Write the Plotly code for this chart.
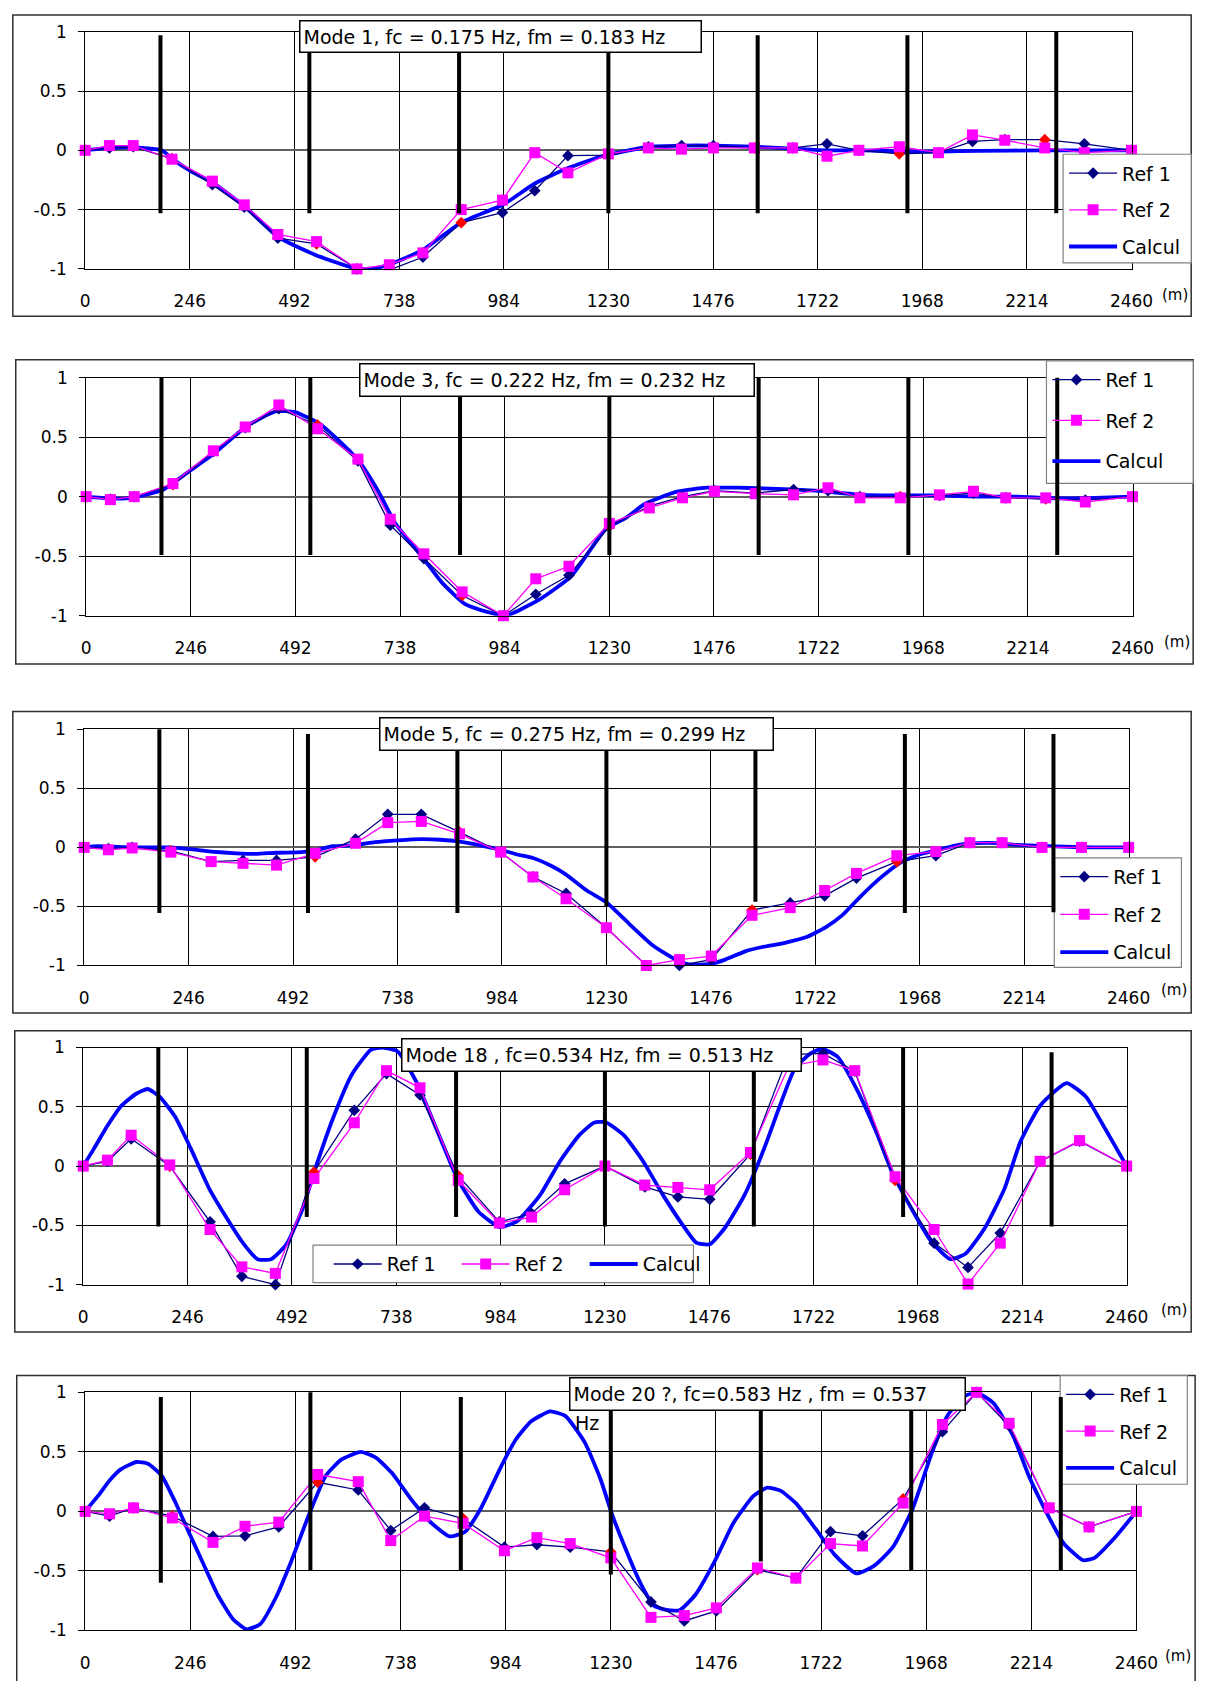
import plotly.graph_objects as go

W, H = 1222, 1681
FONT = "DejaVu Sans"

# ---------------- data ----------------
stations = [0, 57, 113, 204, 299, 374, 453, 544, 639, 715, 794, 884, 981, 1057, 1135,
            1230, 1324, 1402, 1477, 1573, 1663, 1744, 1819, 1914, 2006, 2086, 2162, 2256, 2349, 2460]
highlight_stations = [204, 544, 884, 1230, 1573, 1914, 2256]
pylon_x = [177, 527, 879, 1230, 1581, 1933, 2283]

x_tick_vals = [0, 246, 492, 738, 984, 1230, 1476, 1722, 1968, 2214, 2460]
x_tick_text = ["0", "246", "492", "738", "984", "1230", "1476", "1722", "1968", "2214", "2460"]
y_tick_vals = [-1, -0.5, 0, 0.5, 1]
y_tick_text = ["-1", "-0.5", "0", "0.5", "1"]
series_names = ["Ref 1", "Ref 2", "Calcul"]

titles = ["Mode 1, fc = 0.175 Hz, fm = 0.183 Hz",
          "Mode 3, fc = 0.222 Hz, fm = 0.232 Hz",
          "Mode 5, fc = 0.275 Hz, fm = 0.299 Hz",
          "Mode 18 , fc=0.534 Hz, fm = 0.513 Hz",
          "Mode 20 ?, fc=0.583 Hz , fm = 0.537"]
title5_overflow = "Hz"

# Mode 1
m1_ref1 = [0, 0.02, 0.03, -0.07, -0.29, -0.48, -0.74, -0.79, -1.0, -1.01, -0.9, -0.61, -0.525, -0.34, -0.045,
           -0.04, 0.03, 0.04, 0.04, 0.02, 0.02, 0.055, 0.0, -0.03, -0.02, 0.075, 0.09, 0.09, 0.055, 0.0]
m1_ref2 = [0, 0.04, 0.04, -0.075, -0.26, -0.46, -0.71, -0.77, -1.0, -0.965, -0.865, -0.50, -0.42, -0.02, -0.19,
           -0.03, 0.02, 0.01, 0.02, 0.02, 0.02, -0.05, 0.0, 0.03, -0.02, 0.13, 0.085, 0.02, -0.02, 0.0]
m1_calc_x = [0, 57, 113, 180, 204, 250, 299, 374, 453, 540, 639, 675, 721, 794, 884, 984, 1057, 1135, 1215,
             1324, 1402, 1477, 1573, 1663, 1744, 1830, 1920, 2010, 2100, 2250, 2460]
m1_calc_y = [0, 0.02, 0.025, 0.0, -0.07, -0.18, -0.27, -0.47, -0.73, -0.88, -1.0, -1.0, -0.955, -0.84, -0.61,
             -0.455, -0.28, -0.15, -0.05, 0.03, 0.04, 0.04, 0.03, 0.015, 0.0, 0.0, -0.01, -0.01, -0.005, 0.0, 0.0]

# Mode 3
m3_ref1 = [0, -0.02, 0.0, 0.1, 0.38, 0.58, 0.74, 0.6, 0.3, -0.24, -0.52, -0.83, -1.0, -0.82, -0.66,
           -0.25, -0.08, 0.0, 0.05, 0.03, 0.06, 0.05, 0.0, 0.0, 0.01, 0.03, -0.01, -0.02, -0.03, 0.0]
m3_ref2 = [0, -0.025, 0.0, 0.11, 0.385, 0.585, 0.77, 0.57, 0.315, -0.19, -0.48, -0.80, -1.0, -0.69, -0.585,
           -0.225, -0.095, -0.01, 0.045, 0.025, 0.015, 0.075, -0.01, -0.01, 0.015, 0.045, -0.01, -0.01, -0.045, 0.0]
m3_calc_x = [0, 55, 109, 182, 245, 300, 377, 445, 491, 550, 591, 641, 686, 727, 795, 836, 890, 945, 986,
             1063, 1140, 1222, 1268, 1314, 1387, 1460, 1532, 1624, 1715, 1824, 1915, 2006, 2097, 2188, 2280, 2371, 2460]
m3_calc_y = [0, -0.015, -0.01, 0.06, 0.22, 0.36, 0.59, 0.715, 0.71, 0.61, 0.48, 0.30, 0.05, -0.225, -0.53,
             -0.72, -0.9, -0.97, -1.0, -0.87, -0.67, -0.27, -0.18, -0.06, 0.04, 0.075, 0.075, 0.065, 0.05,
             0.015, 0.01, 0.01, 0.0, 0.0, -0.015, -0.01, 0.0]

# Mode 5
m5_ref1 = [0, -0.01, 0.0, -0.03, -0.12, -0.11, -0.11, -0.08, 0.07, 0.28, 0.28, 0.13, -0.04, -0.25, -0.39,
           -0.68, -1.0, -1.0, -0.95, -0.53, -0.47, -0.41, -0.26, -0.12, -0.07, 0.04, 0.04, 0.0, 0.0, 0.0]
m5_ref2 = [0, -0.02, -0.005, -0.04, -0.12, -0.135, -0.15, -0.05, 0.035, 0.21, 0.22, 0.115, -0.04, -0.25, -0.435,
           -0.68, -1.0, -0.95, -0.92, -0.575, -0.51, -0.365, -0.22, -0.07, -0.035, 0.04, 0.04, 0.0, 0.0, 0.0]
m5_calc_x = [0, 32, 113, 204, 249, 299, 358, 404, 453, 512, 544, 585, 639, 685, 739, 794, 839, 884, 930, 980,
             1020, 1057, 1102, 1135, 1184, 1230, 1283, 1338, 1374, 1401, 1428, 1474, 1510, 1557, 1602, 1648,
             1703, 1748, 1785, 1830, 1876, 1922, 1967, 2013, 2059, 2104, 2150, 2195, 2287, 2378, 2460]
m5_calc_y = [0, 0.01, 0.0, 0.0, -0.015, -0.035, -0.05, -0.055, -0.045, -0.04, -0.025, 0.01, 0.02, 0.045, 0.06,
             0.07, 0.065, 0.05, 0.02, -0.02, -0.06, -0.09, -0.16, -0.23, -0.365, -0.465, -0.645, -0.826, -0.91,
             -0.965, -0.993, -0.987, -0.95, -0.88, -0.84, -0.81, -0.757, -0.673, -0.576, -0.41, -0.256, -0.13,
             -0.06, -0.02, 0.022, 0.036, 0.036, 0.022, 0.008, 0.0, 0.0]

# Mode 18
m18_ref1 = [0, 0.04, 0.23, 0.0, -0.47, -0.93, -1.0, -0.05, 0.47, 0.78, 0.6, -0.08, -0.47, -0.40, -0.15,
            0.0, -0.175, -0.26, -0.28, 0.1, 0.94, 0.95, 0.8, -0.12, -0.65, -0.855, -0.565, 0.04, 0.21, 0.0]
m18_ref2 = [0, 0.05, 0.26, 0.01, -0.535, -0.85, -0.905, -0.105, 0.365, 0.805, 0.66, -0.12, -0.48, -0.43, -0.2,
            0.0, -0.16, -0.18, -0.2, 0.115, 0.84, 0.895, 0.805, -0.09, -0.535, -0.995, -0.65, 0.04, 0.215, 0.0]
m18_calc_x = [0, 25, 57, 89, 125, 152, 180, 216, 252, 297, 343, 379, 411, 443, 479, 515, 551, 588, 633, 678,
              706, 742, 787, 833, 882, 932, 982, 1023, 1077, 1123, 1168, 1204, 1232, 1276, 1321, 1367, 1413,
              1445, 1477, 1513, 1559, 1605, 1642, 1678, 1715, 1742, 1779, 1824, 1870, 1907, 1952, 1998, 2044,
              2080, 2126, 2172, 2209, 2255, 2318, 2364, 2410, 2460]
m18_calc_y = [0, 0.145, 0.34, 0.505, 0.61, 0.65, 0.585, 0.42, 0.16, -0.19, -0.465, -0.66, -0.785, -0.785,
              -0.66, -0.38, 0.02, 0.395, 0.77, 0.98, 1.0, 0.965, 0.70, 0.31, -0.105, -0.385, -0.515, -0.465,
              -0.245, 0.035, 0.255, 0.365, 0.37, 0.255, 0.035, -0.245, -0.495, -0.645, -0.66, -0.52, -0.245,
              0.145, 0.505, 0.825, 0.95, 0.99, 0.92, 0.645, 0.285, -0.05, -0.355, -0.63, -0.785, -0.74, -0.52,
              -0.19, 0.2, 0.505, 0.70, 0.585, 0.31, 0.0]

# Mode 20
m20_ref1 = [0, -0.04, 0.03, -0.04, -0.21, -0.205, -0.13, 0.245, 0.18, -0.16, 0.03, -0.06, -0.30, -0.28, -0.30,
            -0.34, -0.76, -0.92, -0.835, -0.49, -0.56, -0.17, -0.205, 0.105, 0.67, 1.0, 0.72, 0.03, -0.13, 0.0]
m20_ref2 = [0, -0.02, 0.03, -0.055, -0.26, -0.125, -0.09, 0.31, 0.25, -0.245, -0.04, -0.10, -0.33, -0.22, -0.27,
            -0.39, -0.89, -0.875, -0.81, -0.475, -0.56, -0.27, -0.29, 0.07, 0.73, 1.0, 0.74, 0.03, -0.13, 0.0]
m20_calc_x = [0, 30, 57, 84, 120, 147, 179, 211, 242, 274, 310, 346, 378, 410, 446, 482, 523, 563, 600, 645,
              681, 717, 762, 808, 853, 889, 925, 970, 1007, 1043, 1088, 1124, 1169, 1206, 1231, 1264, 1301,
              1332, 1364, 1391, 1428, 1473, 1518, 1564, 1596, 1627, 1664, 1709, 1754, 1804, 1845, 1890, 1936,
              1981, 2017, 2054, 2085, 2126, 2172, 2208, 2253, 2290, 2335, 2362, 2407, 2460]
m20_calc_y = [0, 0.13, 0.26, 0.355, 0.415, 0.40, 0.30, 0.077, -0.17, -0.42, -0.70, -0.905, -0.99, -0.945,
              -0.725, -0.42, -0.033, 0.30, 0.437, 0.50, 0.45, 0.326, 0.105, -0.09, -0.21, -0.17, 0.02, 0.354,
              0.60, 0.755, 0.84, 0.80, 0.58, 0.27, -0.005, -0.31, -0.615, -0.795, -0.83, -0.83, -0.70, -0.42,
              -0.09, 0.13, 0.20, 0.175, 0.065, -0.145, -0.365, -0.52, -0.46, -0.30, 0.02, 0.49, 0.80, 0.96,
              1.0, 0.907, 0.63, 0.30, -0.033, -0.27, -0.41, -0.39, -0.23, 0.0]

# pylon bar extents (data units) per mode
m1_pyl_top = [0.97, 0.97, 0.97, 0.97, 0.97, 0.97, 1.02]
m1_pyl_bot = [-0.53, -0.53, -0.53, -0.53, -0.53, -0.53, -0.53]
m3_pyl_top = [1.0, 1.0, 1.0, 1.0, 1.0, 1.0, 1.0]
m3_pyl_bot = [-0.49, -0.49, -0.49, -0.49, -0.49, -0.49, -0.49]
m5_pyl_top = [1.04, 0.96, 0.96, 0.96, 0.96, 0.96, 0.96]
m5_pyl_bot = [-0.556, -0.556, -0.556, -0.5, -0.46, -0.556, -0.55]
m18_pyl_top = [1.0, 1.07, 1.0, 1.0, 1.0, 1.025, 0.96]
m18_pyl_bot = [-0.51, -0.43, -0.43, -0.51, -0.51, -0.43, -0.51]
m20_pyl_top = [0.96, 1.02, 0.96, 0.96, 0.96, 0.96, 0.96]
m20_pyl_bot = [-0.6, -0.5, -0.5, -0.53, -0.42, -0.5, -0.5]

modes = [
    (m1_ref1, m1_ref2, m1_calc_x, m1_calc_y, m1_pyl_top, m1_pyl_bot),
    (m3_ref1, m3_ref2, m3_calc_x, m3_calc_y, m3_pyl_top, m3_pyl_bot),
    (m5_ref1, m5_ref2, m5_calc_x, m5_calc_y, m5_pyl_top, m5_pyl_bot),
    (m18_ref1, m18_ref2, m18_calc_x, m18_calc_y, m18_pyl_top, m18_pyl_bot),
    (m20_ref1, m20_ref2, m20_calc_x, m20_calc_y, m20_pyl_top, m20_pyl_bot),
]

# ---------------- layout geometry (pixels) ----------------
geom = [
    dict(plot=(82, 22, 1152, 262), frame=(8, 5, 1213, 310), title=(301, 10, 704, 43),
         legbox=(1082, 146, 1213, 256), orient="v", gap=9, m=(1196, 288)),
    dict(plot=(83, 372, 1153, 613), frame=(11, 354, 1215, 662), title=(362, 357, 758, 391),
         legbox=(1065, 355, 1215, 479), orient="v", gap=13, m=(1198, 640)),
    dict(plot=(81, 728, 1149, 967), frame=(8, 710, 1213, 1015), title=(382, 716, 777, 750),
         legbox=(1073, 858, 1203, 969), orient="v", gap=10, m=(1195, 992)),
    dict(plot=(80, 1050, 1147, 1290), frame=(10, 1033, 1213, 1338), title=(405, 1040, 806, 1074),
         legbox=(315, 1250, 704, 1288), orient="h", gap=0, m=(1195, 1316)),
    dict(plot=(82, 1399, 1157, 1640), frame=(12, 1382, 1217, 1700), title=(577, 1383, 974, 1417),
         legbox=(1079, 1382, 1209, 1492), orient="v", gap=9, m=(1200, 1666)),
]


def fx(px):
    return px / W


def fy(py):
    return 1 - py / H


fig = go.Figure()
layout = dict(width=W, height=H, margin=dict(l=0, r=0, t=0, b=0),
              paper_bgcolor="white", plot_bgcolor="white",
              font=dict(family=FONT, size=17, color="black"), showlegend=True)
frame_shapes, legend_shapes, pylon_shapes = [], [], []
annotations = []

ref1_colors = ["red" if s in highlight_stations else "#000080" for s in stations]

for i, ((r1, r2, cx, cy, ptop, pbot), g) in enumerate(zip(modes, geom), start=1):
    xa = "x" if i == 1 else f"x{i}"
    ya = "y" if i == 1 else f"y{i}"
    leg = "legend" if i == 1 else f"legend{i}"

    # Calcul
    fig.add_trace(go.Scatter(x=cx, y=cy, mode="lines", name=series_names[2],
                             line=dict(color="#0000FF", width=3.8, shape="spline", smoothing=0.5),
                             xaxis=xa, yaxis=ya, legend=leg, legendrank=3, legendgroup=f"c{i}",
                             cliponaxis=False))
    # Ref 1
    fig.add_trace(go.Scatter(x=stations, y=r1, mode="lines+markers", name=series_names[0],
                             line=dict(color="#000080", width=1.3),
                             marker=dict(symbol="diamond", size=9, color=ref1_colors),
                             xaxis=xa, yaxis=ya, legend=leg, legendrank=1, legendgroup=f"a{i}",
                             cliponaxis=False))
    # Ref 2
    fig.add_trace(go.Scatter(x=stations, y=r2, mode="lines+markers", name=series_names[1],
                             line=dict(color="#FF00FF", width=1.3),
                             marker=dict(symbol="square", size=11, color="#FF00FF"),
                             xaxis=xa, yaxis=ya, legend=leg, legendrank=2, legendgroup=f"b{i}",
                             cliponaxis=False))

    # pylons: drawing lines placed through the panel's axes, above the chart
    for xp, yt, yb in zip(pylon_x, ptop, pbot):
        pylon_shapes.append(dict(type="line", xref=xa, yref=ya, x0=xp, x1=xp, y0=yb, y1=yt,
                                 line=dict(color="black", width=4), layer="above"))

    x0, y0, x1, y1 = g["plot"]
    xkey = "xaxis" if i == 1 else f"xaxis{i}"
    ykey = "yaxis" if i == 1 else f"yaxis{i}"
    layout[xkey] = dict(domain=[fx(x0), fx(x1)], range=[0, 2460], anchor=ya,
                        tickmode="array", tickvals=x_tick_vals, ticktext=x_tick_text,
                        showgrid=True, gridcolor="black", gridwidth=1, zeroline=False,
                        showline=True, linecolor="black", linewidth=1, mirror=True,
                        ticks="", ticklabelstandoff=17,
                        tickfont=dict(family=FONT, size=17, color="black"), fixedrange=True)
    layout[ykey] = dict(domain=[fy(y1), fy(y0)], range=[-1, 1], anchor=xa,
                        tickmode="array", tickvals=y_tick_vals, ticktext=y_tick_text,
                        showgrid=True, gridcolor="black", gridwidth=1,
                        zeroline=True, zerolinecolor="#606060", zerolinewidth=1.5,
                        showline=True, linecolor="black", linewidth=1, mirror=True,
                        ticks="outside", ticklen=6, tickcolor="black", ticklabelstandoff=8,
                        tickfont=dict(family=FONT, size=17, color="black"), fixedrange=True)

    # chart frame
    fx0, fy0, fx1, fy1 = g["frame"]
    frame_shapes.append(dict(type="rect", xref="paper", yref="paper", x0=fx(fx0), x1=fx(fx1),
                             y0=fy(fy1), y1=fy(fy0), line=dict(color="#303030", width=1.5),
                             fillcolor="rgba(0,0,0,0)", layer="above"))

    # legend box (drawn as a shape; plotly legend text sits on top of it)
    lx0, ly0, lx1, ly1 = g["legbox"]
    legend_shapes.append(dict(type="rect", xref="paper", yref="paper", x0=fx(lx0), x1=fx(lx1),
                              y0=fy(ly1), y1=fy(ly0), line=dict(color="#808080", width=1.2),
                              fillcolor="white", layer="above"))

    # title box
    tx0, ty0, tx1, ty1 = g["title"]
    pad, bw = 3, 1.5
    annotations.append(dict(text=titles[i - 1], xref="paper", yref="paper", x=fx(tx0), y=fy(ty0),
                            xanchor="left", yanchor="top", showarrow=False, align="left",
                            valign="middle", width=tx1 - tx0 - 2 * pad - 2 * bw,
                            height=ty1 - ty0 - 2 * pad - 2 * bw, bgcolor="white",
                            bordercolor="black", borderwidth=bw, borderpad=pad,
                            font=dict(family=FONT, size=19, color="black")))
    # (m)
    mx, my = g["m"]
    annotations.append(dict(text="(m)", xref="paper", yref="paper", x=fx(mx), y=fy(my),
                            xanchor="center", yanchor="middle", showarrow=False,
                            font=dict(family=FONT, size=15, color="black")))

    # legend
    legd = dict(x=fx(lx0 + 1), y=fy(ly0), xanchor="left", yanchor="top", xref="paper", yref="paper",
                bgcolor="rgba(0,0,0,0)", borderwidth=0,
                font=dict(family=FONT, size=19, color="black"), itemwidth=48,
                traceorder="grouped", tracegroupgap=g["gap"], itemclick=False, itemdoubleclick=False)
    if g["orient"] == "h":
        legd.update(orientation="h", entrywidth=65, entrywidthmode="pixels", x=fx(lx0 + 16))
    layout[leg] = legd

# overflowing second line of mode 20 title
annotations.append(dict(text=title5_overflow, xref="paper", yref="paper", x=fx(581), y=fy(1430),
                        xanchor="left", yanchor="middle", showarrow=False,
                        font=dict(family=FONT, size=19, color="black")))

layout["shapes"] = frame_shapes + legend_shapes + pylon_shapes
layout["annotations"] = annotations
fig.update_layout(**layout)
fig.write_html("out.html")
